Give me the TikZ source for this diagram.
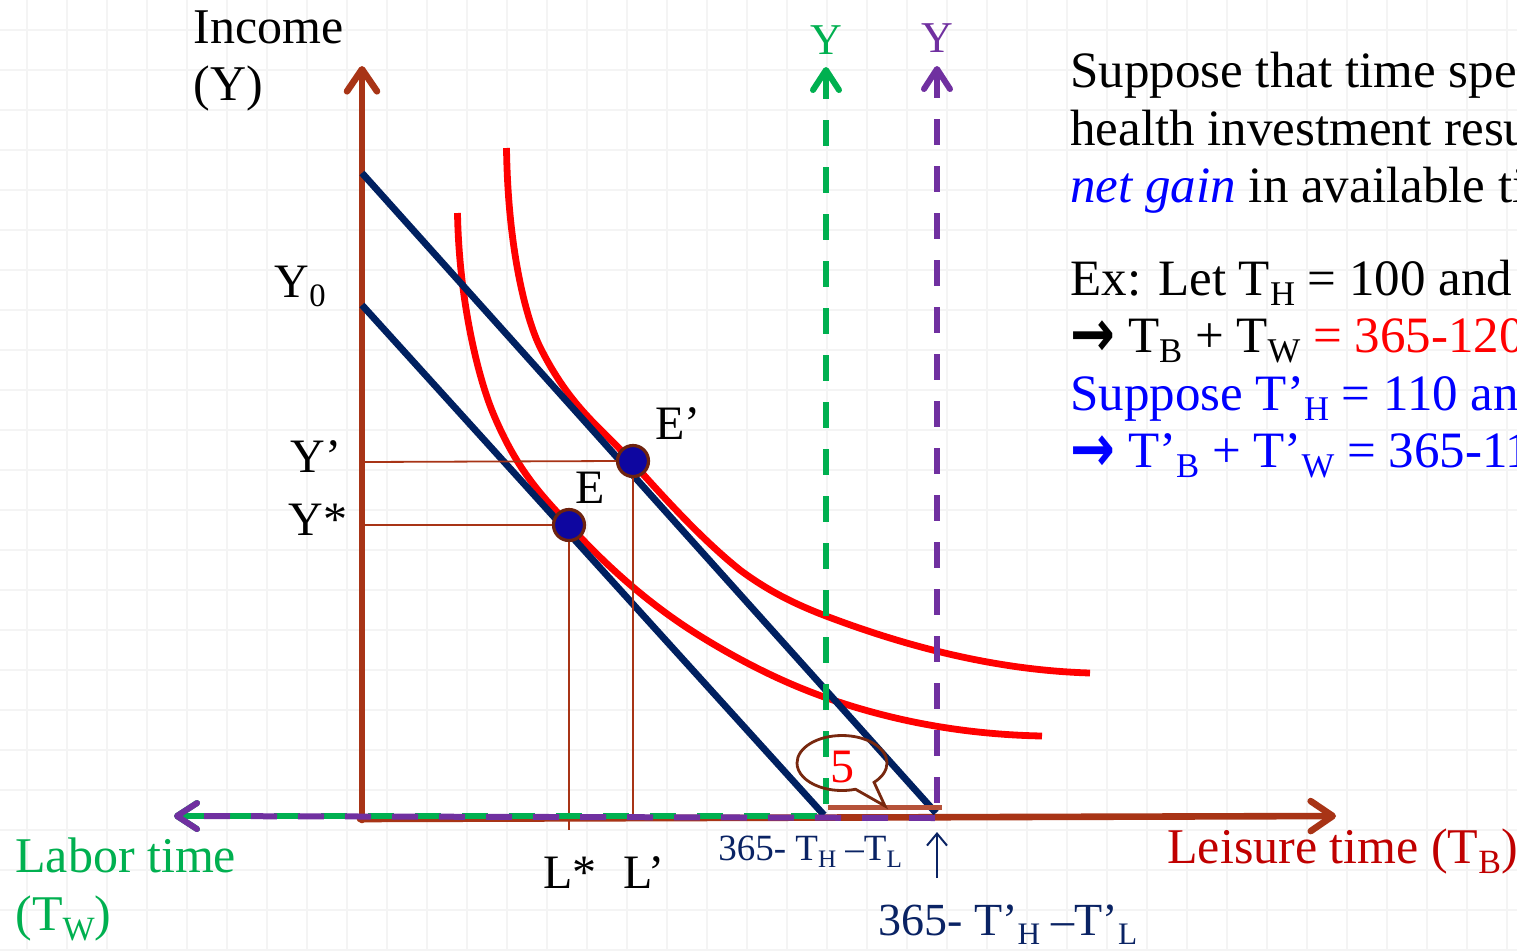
\documentclass[tikz,border=0pt]{standalone}
\usepackage{fontspec}
\setmainfont{Liberation Serif}
\newfontfamily\symfont{DejaVu Sans}
\usetikzlibrary{arrows.meta,shapes.callouts}
\definecolor{axisbrown}{RGB}{168,52,22}
\definecolor{navy}{RGB}{0,32,96}
\definecolor{ired}{RGB}{255,0,0}
\definecolor{igreen}{RGB}{0,176,80}
\definecolor{ipurple}{RGB}{112,48,160}
\definecolor{dotblue}{RGB}{14,6,160}
\definecolor{dotbrown}{RGB}{110,35,15}
\definecolor{labnavy}{RGB}{10,35,100}
\definecolor{leisred}{RGB}{192,0,0}
\definecolor{tblue}{RGB}{0,0,255}
\definecolor{gridc}{RGB}{244,244,244}
\definecolor{bubblebrown}{RGB}{120,40,15}
\newcommand\sbs[1]{\raisebox{-0.2em}{\scalebox{0.68}{#1}}}
\newcommand\bigarr{\raisebox{-0.08em}{\scalebox{1.05}[1.3]{\symfont\bfseries →}}}
\begin{document}
\begin{tikzpicture}[x=0.5pt,y=-0.5pt,
  gridline/.style={draw=gridc, line width=1pt},
  axisline/.style={draw=axisbrown, line width=3.3pt, line cap=round},
  barbtip/.style={-{Straight Barb[length=11pt,width=15pt,round]}},
  barbtipL/.style={{Straight Barb[length=10pt,width=13pt,round]}-},
  budget/.style={draw=navy, line width=3.4pt},
  icurve/.style={draw=ired, line width=3.4pt},
  guide/.style={draw=axisbrown, line width=0.9pt},
  dashg/.style={draw=igreen, line width=3pt, dash pattern=on 13pt off 10.5pt},
  dashp/.style={draw=ipurple, line width=3pt, dash pattern=on 13pt off 10.5pt},
  eqdot/.style={circle, fill=dotblue, draw=dotbrown, line width=1.6pt, minimum size=15.5pt, inner sep=0},
  lbl/.style={inner sep=0, font=\fontsize{24}{28}\selectfont},
  bigl/.style={inner sep=0, font=\fontsize{25}{30}\selectfont},
  txt/.style={inner sep=0, anchor=base west, font=\fontsize{25.5}{30}\selectfont}
]
\useasboundingbox (0,0) rectangle (1517,950);
\clip (0,0) rectangle (1517,950);
\fill[white] (0,0) rectangle (1517,950);
% grid
\foreach \gx in {0,...,37} \draw[gridline] ({26.7+40*\gx},0) -- ++(0,950);
\foreach \gy in {0,...,23} \draw[gridline] (0,{30+40*\gy}) -- ++(1517,0);

% coordinates
\coordinate (O) at (362,820);
\coordinate (Ytop) at (362,66);
\coordinate (Hstart) at (360,819);
\coordinate (Hend) at (1336,816);
\coordinate (Lend) at (174,816);
\coordinate (Gbot) at (826,816);
\coordinate (Gtop) at (826,67);
\coordinate (Pbot) at (937,818);
\coordinate (Ptop) at (937,66);
\coordinate (B1a) at (362,305);
\coordinate (B1b) at (824,815);
\coordinate (B2a) at (362,173);
\coordinate (B2b) at (936,813);
\coordinate (Yp) at (362,462);
\coordinate (Ys) at (362,525);
\coordinate (Lsb) at (569,830);
\coordinate (Lpb) at (633,818);
\coordinate (brA) at (828,807);
\coordinate (brB) at (942,807);
\coordinate (tail5) at (885,806);
\coordinate (arrbot) at (937,878);
\coordinate (arrtop) at (937,832);

% axes
\draw[axisline, barbtip] (O) -- (Ytop);
\draw[axisline, barbtip] (Hstart) -- (Hend);

% indifference curves
\draw[icurve] (457.5,213) .. controls (459,300) and (478,377) .. (493,413)
  .. controls (518,473) and (544,497.5) .. (569,525)
  .. controls (612.7,573) and (656.3,609) .. (700,636)
  .. controls (742.3,662.2) and (784.7,683.2) .. (827,698)
  .. controls (898.7,723.1) and (970.3,734.6) .. (1042,736);
\draw[icurve] (506.5,148) .. controls (508,255) and (528,323) .. (540,347)
  .. controls (571,409) and (602,428.3) .. (633,463)
  .. controls (668.7,503) and (704.3,541.4) .. (740,570)
  .. controls (768.7,591.5) and (797.3,605.1) .. (826,616)
  .. controls (914,649.4) and (1002,670.4) .. (1090,673);

% budget lines
\draw[budget] (B1a) -- (B1b);
\draw[budget] (B2a) -- (B2b);

% dots
\node[eqdot] (E) at (569,525) {};
\node[eqdot] (Ep) at (633,461) {};

% guide lines
\draw[guide] (Yp) -- (Ep.west);
\draw[guide] (Ys) -- (E.west);
\draw[guide] (E.south) -- (Lsb);
\draw[guide] (Ep.south) -- (Lpb);

% dashed lines
\draw[dashg, {Straight Barb[length=10pt,width=13pt,round]}-] (Gtop) -- (Gbot);
\draw[dashp, {Straight Barb[length=10pt,width=13pt,round]}-] (Ptop) -- (Pbot);
\draw[dashg, barbtipL] (Lend) -- (Gbot);
\draw[dashp, barbtipL, dash phase=11.5pt] (Lend) -- (Pbot);

% bracket and callout
\draw[draw=axisbrown!85, line width=2.5pt] (brA) -- (brB);
\node[ellipse callout, draw=bubblebrown, line width=1.4pt, minimum width=45pt, minimum height=27.5pt, inner sep=0, callout absolute pointer={(tail5)}, callout pointer arc=28] (bubble) at (842,763) {};
\node[inner sep=0, text=ired, font=\fontsize{24}{28}\selectfont] (five) at (842,767) {5};

% small arrow
\draw[labnavy, line width=1pt, -{Straight Barb[length=6pt,width=10pt]}] (arrbot) -- (arrtop);

% axis labels
\node[bigl, anchor=base west] (inc1) at (193,43) {Income};
\node[bigl, anchor=base west] (inc2) at (193,100) {(Y)};
\node[lbl, anchor=base east] (y0) at (326,297) {Y\sbs{0}};
\node[lbl, anchor=base east] (yp) at (342,472) {Y’};
\node[lbl, anchor=base east] (ys) at (348,535) {Y*};
\node[lbl, anchor=base west] (elab) at (575,503) {E};
\node[lbl, anchor=base west] (eplab) at (655,439) {E’};
\node[lbl, anchor=base west] (ls) at (543,888) {L*};
\node[lbl, anchor=base west] (lp) at (623,888) {L’};
\node[inner sep=0, anchor=base, text=igreen, font=\fontsize{22}{26}\selectfont] (yg) at (826,54) {Y};
\node[inner sep=0, anchor=base, text=ipurple, font=\fontsize{22}{26}\selectfont] (ypu) at (937,52) {Y};
\node[bigl, anchor=base west, text=igreen] (lab1) at (15,872) {Labor time};
\node[bigl, anchor=base west, text=igreen] (lab2) at (15,930) {(T\sbs{W})};
\node[bigl, anchor=base west, text=leisred] (leis) at (1167,863) {Leisure time (T\sbs{B})};
\node[inner sep=0, anchor=base west, text=labnavy, font=\fontsize{18.5}{22}\selectfont] (t1) at (718,860) {365- T\sbs{H} –T\sbs{L}};
\node[inner sep=0, anchor=base west, text=labnavy, font=\fontsize{23}{27}\selectfont] (t2) at (878,935) {365- T’\sbs{H} –T’\sbs{L}};

% right text
\node[txt] (r1) at (1070,87) {Suppose that time spent};
\node[txt] (r2) at (1070,145) {health investment results};
\node[txt] (r3) at (1070,202) {{\color{tblue}\itshape net gain} in available time};
\node[txt] (r4) at (1070,295) {Ex: Let T\sbs{H} = 100 and T\sbs{L}};
\node[txt] (r5) at (1070,352) {\bigarr{} T\sbs{B} + T\sbs{W} {\color{ired}= 365-120}};
\node[txt, text=tblue] (r6) at (1070,410) {Suppose T’\sbs{H} = 110 and};
\node[txt, text=tblue] (r7) at (1070,467) {\bigarr{} T’\sbs{B} + T’\sbs{W} = 365-115};
\end{tikzpicture}
\end{document}
